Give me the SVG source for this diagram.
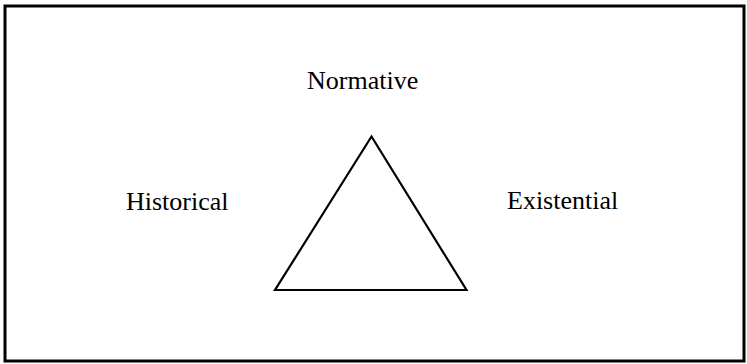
<svg xmlns="http://www.w3.org/2000/svg" width="747" height="364" viewBox="0 0 747 364">
<style>
.lbl{font-family:"Liberation Serif","Times New Roman",serif;font-size:26px;fill:#000}
.frame{fill:none;stroke:#000;stroke-width:3}
.tri{fill:none;stroke:#000;stroke-width:2.2;stroke-linejoin:miter}
</style>
<rect width="747" height="364" fill="#fff"/>
<rect class="frame" x="5" y="6" width="739" height="355"/>
<g id="triangle">
<polygon class="tri" points="371.5,136.5 275,290 466.5,290"/>
</g>
<g id="normative"><text class="lbl" x="307" y="89">Normative</text></g>
<g id="historical"><text class="lbl" x="126" y="210">Historical</text></g>
<g id="existential"><text class="lbl" x="507" y="209">Existential</text></g>
<g id="connectors"></g>
</svg>
